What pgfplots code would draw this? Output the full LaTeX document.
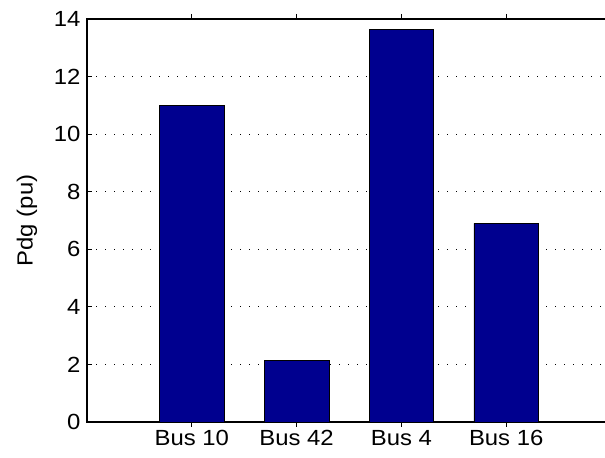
\documentclass[border=0pt]{standalone}
\usepackage{pgfplots}
\pgfplotsset{compat=1.18}
\usepackage{fontspec}
\setmainfont{Liberation Sans}[FakeStretch=1.09]
\definecolor{barblue}{RGB}{0,0,143}
\begin{document}
\begin{tikzpicture}[x=1bp,y=1bp]
\useasboundingbox (0,0) rectangle (605,458);
\begin{scope}
\clip (0,0) rectangle (605,458);
\begin{axis}[
  at={(87bp,36bp)}, anchor=south west,
  scale only axis, width=560bp, height=403bp,
  xmin=0, xmax=5.3435, ymin=0, ymax=14,
  xtick={1,2,3,4},
  xticklabels={Bus 10,Bus 42,Bus 4,Bus 16},
  ytick={0,2,...,14},
  tick align=inside,
  major tick length=5bp,
  tick style={black, line width=0.9bp},
  axis line style={line width=1.1bp},
  ymajorgrids,
  grid style={black, line width=1.2bp, dash pattern=on 1.2bp off 7.8bp},
  tick label style={font=\fontsize{22}{26}\selectfont},
  yticklabel style={xshift=-3bp},
  /pgf/number format/assume math mode=true,
  ylabel={Pdg (pu)},
  ylabel style={at={(axis description cs:0,0.5)}, yshift=60bp, anchor=center,
    font=\fontsize{22}{26}\selectfont},
  ybar, bar width=0.615,
]
\addplot[fill=barblue, draw=black, line width=0.6bp]
  coordinates {(1,11.0) (2,2.15) (3,13.63) (4,6.9)};
\end{axis}
\end{scope}
\end{tikzpicture}
\end{document}
